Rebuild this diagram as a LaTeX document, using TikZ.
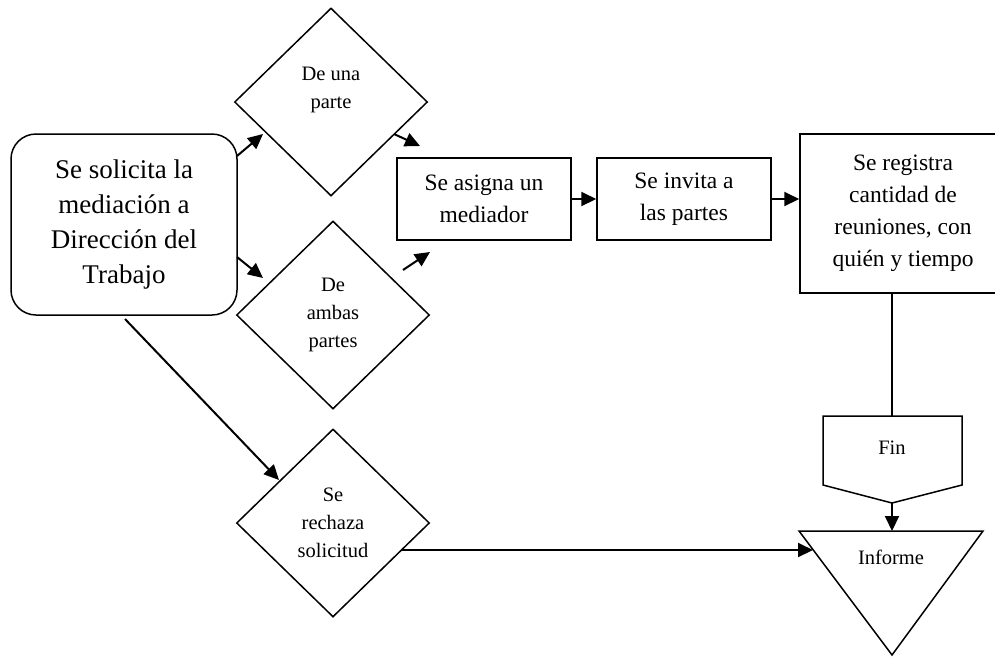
\documentclass[tikz,border=0pt]{standalone}
\usepackage{fontspec}
\setmainfont{Liberation Serif}
\usetikzlibrary{shapes.geometric,arrows.meta}
\begin{document}
\begin{tikzpicture}[x=1pt,y=-1pt,
 shp/.style={draw, line width=1.5pt, inner sep=0pt, align=center},
 big/.style={font=\fontsize{27}{35}\selectfont},
 mid/.style={font=\fontsize{23.5}{32}\selectfont},
 sml/.style={font=\fontsize{20.5}{28}\selectfont},
 dia/.style={shp, sml, diamond, minimum width=193pt, minimum height=188pt},
 arr/.style={line width=2pt, -{Triangle[length=15pt,width=14pt]}},
 ln/.style={line width=2pt}]
\useasboundingbox (0,0) rectangle (995,657);
\clip (0,0) rectangle (995,657);
% start
\node[shp,big,rounded corners=25pt,minimum width=226pt,minimum height=181pt] (sol) at (124,224.5) {Se solicita la\\mediación a\\Dirección del\\Trabajo};
% decisions
\node[dia] (una) at (331,102) {De una\\parte\\\mbox{}};
\node[dia] (ambas) at (333,315) {De\\ambas\\partes};
\node[dia] (rech) at (333,523) {Se\\rechaza\\solicitud};
% process boxes
\node[shp,mid,minimum width=174pt,minimum height=82pt] (asig) at (484,199) {Se asigna un\\mediador};
\node[shp,mid,minimum width=174pt,minimum height=82pt] (invi) at (684,199) {Se invita a\\las partes};
\node[shp,mid,minimum width=206pt,minimum height=159pt] (regi) at (903,213.5) {Se registra\\cantidad de\\reuniones, con\\quién y tiempo};
% Fin (off-page connector shape)
\draw[line width=1.5pt] (823,416) -- (962,416) -- (962,485) -- (892,503) -- (823,485) -- cycle;
\node[sml] (fin) at (892,448) {Fin};
\coordinate (fintop) at (892,416);
\coordinate (finbot) at (892,503);
% Informe (triangle)
\draw[line width=1.5pt] (799,531) -- (983,531) -- (892,655) -- cycle;
\node[sml] (inf) at (891,557) {Informe};
\coordinate (inftop) at (892,531);
\coordinate (infleft) at (813,550);
% free arrows
\coordinate (a1s) at (237,156); \coordinate (a1e) at (263,134);
\coordinate (a2s) at (237,257); \coordinate (a2e) at (263,278);
\coordinate (a3s) at (125,319); \coordinate (a3e) at (279,480);
\coordinate (a4s) at (394,134); \coordinate (a4e) at (420,146);
\coordinate (a5s) at (403,270); \coordinate (a5e) at (430,252);
\coordinate (rjs) at (402,550);
\draw[arr] (a1s) -- (a1e);
\draw[arr] (a2s) -- (a2e);
\draw[arr] (a3s) -- (a3e);
\draw[arr] (a4s) -- (a4e);
\draw[arr] (a5s) -- (a5e);
\draw[arr] (asig.east) -- (invi.west);
\draw[arr] (invi.east) -- (invi.east -| regi.west);
\draw[ln] (fintop |- regi.south) -- (fintop);
\draw[arr] (finbot) -- (inftop);
\draw[arr] (rjs) -- (infleft);
\end{tikzpicture}
\end{document}
